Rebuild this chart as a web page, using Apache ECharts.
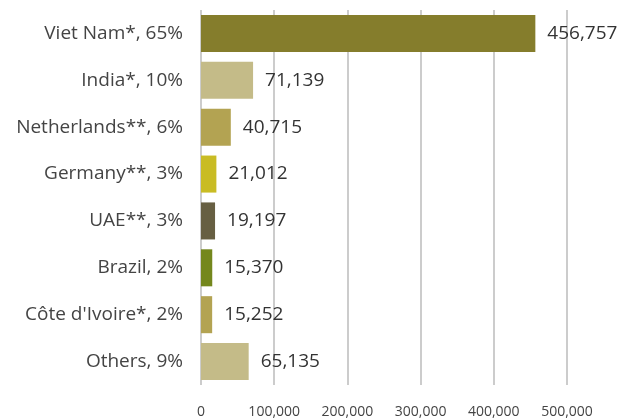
<!DOCTYPE html>
<html lang="en">
<head>
<meta charset="utf-8">
<title>Exports</title>
<script src="https://cdn.jsdelivr.net/npm/echarts@6/dist/echarts.min.js"></script>
<style>
  html, body { margin: 0; padding: 0; background: #fff; }
  #main { width: 621px; height: 419px; }
</style>
</head>
<body>
<div id="main"></div>
<script type="text/javascript">
  // categories, top to bottom
  let categories = ['Viet Nam*, 65%', 'India*, 10%', 'Netherlands**, 6%', 'Germany**, 3%',
                    'UAE**, 3%', 'Brazil, 2%', "Côte d'Ivoire*, 2%", 'Others, 9%'];
  let values = [456757, 71139, 40715, 21012, 19197, 15370, 15252, 65135];
  let barColors = ['#857d2c', '#c4bb88', '#b3a352', '#c9bc24', '#675f42', '#74871d', '#b3a352', '#c4bb88'];
  let xTicks = [0, 100000, 200000, 300000, 400000, 500000];

  let fontName = '"Open Sans", sans-serif';

  // category axis is inverse so first item at top
  let chart = echarts.init(document.getElementById('main'));

  let option = {
    animation: false,
    grid: { left: 201, right: 54, top: 10, bottom: 34 },
    xAxis: {
      type: 'value',
      min: xTicks[0],
      max: xTicks[xTicks.length - 1],
      interval: 100000,
      axisLine: { show: false },
      axisTick: { show: false },
      splitLine: { lineStyle: { color: '#cccccc', width: 2 } },
      axisLabel: {
        color: '#444',
        fontFamily: fontName,
        fontSize: 14,
        margin: 20,
        formatter: (v) => v.toLocaleString('en-US')
      }
    },
    yAxis: {
      type: 'category',
      inverse: true,
      data: categories,
      axisLine: { show: false },
      axisTick: { show: false },
      axisLabel: { color: '#444', fontFamily: fontName, fontSize: 19, margin: 18 }
    },
    series: [{
      type: 'bar',
      barCategoryGap: '21%',
      data: values.map((v, i) => ({ value: v, itemStyle: { color: barColors[i] } })),
      label: {
        show: true,
        position: 'right',
        distance: 12,
        color: '#333',
        fontFamily: fontName,
        fontSize: 19,
        formatter: (p) => p.value.toLocaleString('en-US')
      }
    }]
  };

  chart.setOption(option);
</script>
</body>
</html>
